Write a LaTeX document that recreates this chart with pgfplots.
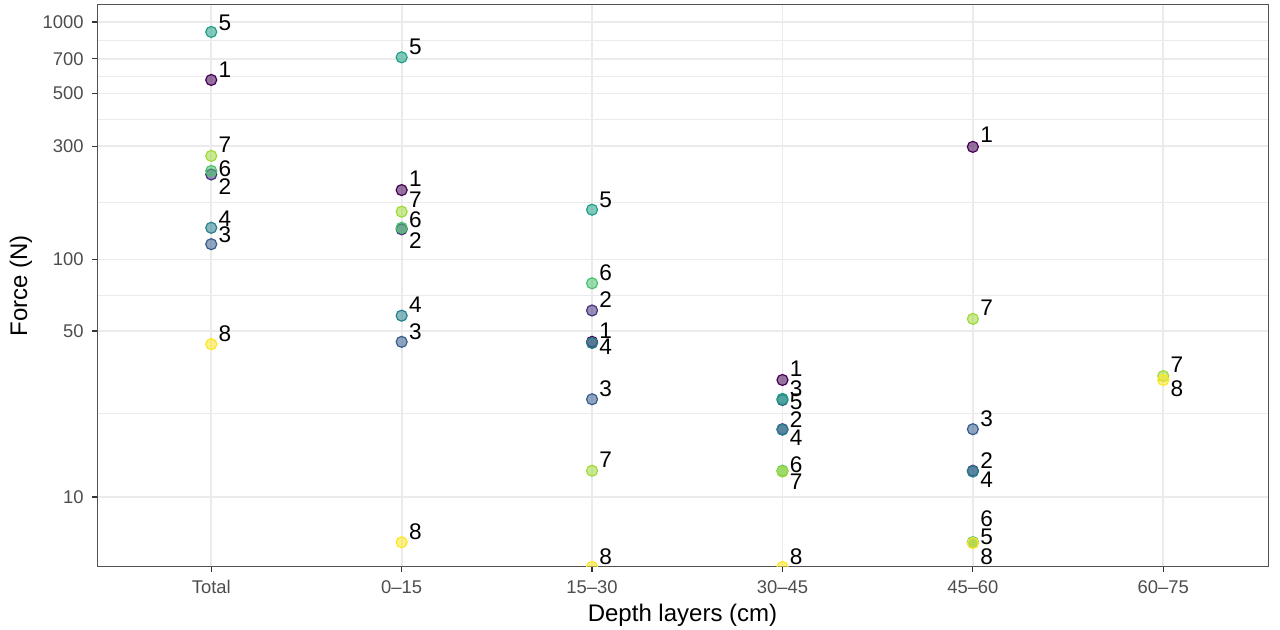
\documentclass[border=0pt]{standalone}
\usepackage{fontspec}
\setmainfont{Liberation Sans}
\usepackage{pgfplots}
\pgfplotsset{compat=1.18}
\usepackage{pgfplotstable}

\definecolor{c1}{HTML}{440154}
\definecolor{c2}{HTML}{46337E}
\definecolor{c3}{HTML}{365C8D}
\definecolor{c4}{HTML}{277F8E}
\definecolor{c5}{HTML}{1FA187}
\definecolor{c6}{HTML}{4AC16D}
\definecolor{c7}{HTML}{9FDA3A}
\definecolor{c8}{HTML}{FDE725}
\definecolor{gridc}{HTML}{EBEBEB}
\definecolor{tickc}{HTML}{4D4D4D}
\definecolor{axc}{HTML}{333333}

% x: 0=Total, 1=0-15, 2=15-30, 3=30-45, 4=45-60, 5=60-75
\pgfplotstableread{
x y
0 570
1 196
2 45
3 31.1
4 298
}\dA
\pgfplotstableread{
x y
0 228
1 134
2 61
3 19.3
4 12.9
}\dB
\pgfplotstableread{
x y
0 116
1 45
2 25.8
3 25.6
4 19.3
}\dC
\pgfplotstableread{
x y
0 136
1 58
2 44.5
3 19.2
4 12.8
}\dD
\pgfplotstableread{
x y
0 908
1 710
2 162
3 25.9
4 6.43
}\dE
\pgfplotstableread{
x y
0 236
1 136
2 79.4
3 12.9
4 6.45
}\dF
\pgfplotstableread{
x y
0 273
1 159
2 12.9
3 12.8
4 56.2
5 32.3
}\dG
\pgfplotstableread{
x y
0 44
1 6.45
2 5.074
3 5.074
4 6.4
5 31.1
}\dH
% label positions
\pgfplotstableread{
x y lab
0.072 993 5
0.072 632 1
0.072 303.5 7
0.072 242 6
0.072 202.6 2
0.072 149.1 4
0.072 126.8 3
0.072 48.9 8
1.072 787 5
1.072 218.3 1
1.072 178.1 7
1.072 146.7 6
1.072 120 2
1.072 64.3 4
1.072 49.7 3
1.072 7.14 8
2.072 178.1 5
2.072 88.3 6
2.072 67.5 2
2.072 50.1 1
2.072 42.9 4
2.072 28.5 3
2.072 14.3 7
2.072 5.61 8
3.072 34.6 1
3.072 28.7 3
3.072 25.2 5
3.072 21.1 2
3.072 17.7 4
3.072 13.64 6
3.072 11.6 7
3.072 5.61 8
4.072 334.3 1
4.072 62.9 7
4.072 21.45 3
4.072 14.3 2
4.072 11.8 4
4.072 8.13 6
4.072 6.77 5
4.072 5.61 8
5.072 35.9 7
5.072 28.7 8
}\dLab

\pgfplotsset{
  pt/.style={only marks, mark=*, mark size=2.75pt,
    mark options={draw=#1, fill=#1, fill opacity=0.55, line width=0.6pt}},
}

\begin{document}
\begin{tikzpicture}
\useasboundingbox (0,0) rectangle (640pt,315pt);
\begin{axis}[
  at={(48.5pt,31.5pt)}, anchor=south west,
  scale only axis, width=585.5pt, height=281pt,
  ymode=log,
  xmin=-0.6, xmax=5.55, ymin=5.074, ymax=1179,
  xtick={0,1,2,3,4,5},
  xticklabels={Total,0–15,15–30,30–45,45–60,60–75},
  ytick={10,50,100,300,500,700,1000},
  yticklabels={10,50,100,300,500,700,1000},
  minor ytick={22.36,70.71,173.2,387.3,591.6,836.7},
  grid=both,
  major grid style={draw=gridc, line width=0.9pt},
  minor grid style={draw=gridc, line width=0.5pt},
  minor tick length=0pt,
  tick align=outside, major tick length=2.5pt,
  xtick pos=bottom, ytick pos=left,
  tick style={draw=axc, line width=0.6pt},
  axis line style={draw=axc!85, line width=0.5pt},
  ticklabel style={font=\fontsize{9.2}{9.2}\selectfont, text=tickc},
  xticklabel style={inner sep=0pt, anchor=north, yshift=-4pt},
  yticklabel style={inner sep=0pt, anchor=east, xshift=-4pt},
  xlabel={Depth layers (cm)},
  ylabel={Force (N)},
  every axis x label/.style={at={(axis description cs:0.5,0)}, anchor=base, yshift=-27.35pt, inner sep=0pt, font=\fontsize{12}{12}\selectfont},
  every axis y label/.style={at={(axis description cs:-0.0649,0.5)}, rotate=90, anchor=center, inner sep=0pt, font=\fontsize{12}{12}\selectfont},
  clip marker paths=true,
]
\addplot[pt=c1] table[x=x,y=y]{\dA};
\addplot[pt=c2] table[x=x,y=y]{\dB};
\addplot[pt=c3] table[x=x,y=y]{\dC};
\addplot[pt=c4] table[x=x,y=y]{\dD};
\addplot[pt=c5] table[x=x,y=y]{\dE};
\addplot[pt=c6] table[x=x,y=y]{\dF};
\addplot[pt=c7] table[x=x,y=y]{\dG};
\addplot[pt=c8] table[x=x,y=y]{\dH};
\addplot[draw=none, nodes near coords, point meta=explicit symbolic,
  nodes near coords align={center},
  every node near coord/.append style={inner sep=0pt, font=\fontsize{11.3}{11.3}\selectfont, text=black}]
  table[x=x,y=y,meta=lab]{\dLab};
\end{axis}
\end{tikzpicture}
\end{document}
